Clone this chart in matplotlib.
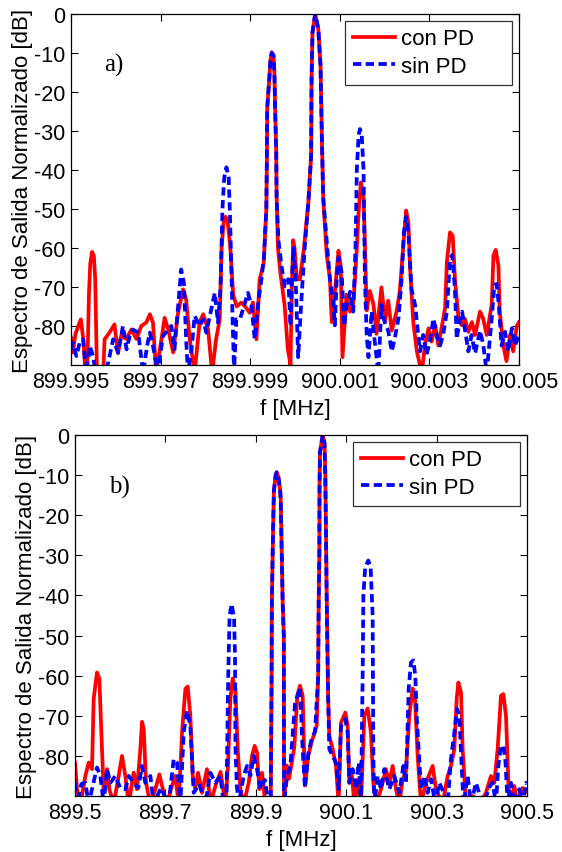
import numpy as np
import matplotlib
matplotlib.use("Agg")
import matplotlib.pyplot as plt

# panel a): offsets from 900 MHz in kHz, level in dB
a_con_khz = [-5.00, -4.96, -4.90, -4.78, -4.72, -4.68, -4.63, -4.60, -4.57, -4.53, -4.49, -4.46, -4.42,
             -4.28, -4.25, -4.14, -4.03, -3.95, -3.88, -3.77, -3.65, -3.54, -3.43, -3.32, -3.24, -3.17,
             -3.10, -2.98, -2.91, -2.83, -2.72, -2.61, -2.50, -2.43, -2.35, -2.24, -2.13, -2.05, -1.94,
             -1.85, -1.76, -1.68, -1.64, -1.59, -1.55, -1.50, -1.45, -1.38, -1.30, -1.20, -1.12, -1.01,
             -0.94, -0.86, -0.79, -0.70, -0.64, -0.63, -0.62, -0.57, -0.55, -0.52, -0.48, -0.46, -0.44,
             -0.42, -0.41, -0.38, -0.33, -0.23, -0.16, -0.10, -0.07, -0.04, -0.01, 0.04, 0.11, 0.20,
             0.30, 0.36, 0.37, 0.39, 0.45, 0.52, 0.57, 0.60, 0.63, 0.71, 0.78, 0.82, 0.90, 0.97, 1.02,
             1.06, 1.15, 1.23, 1.30, 1.34, 1.38, 1.42, 1.47, 1.53, 1.56, 1.60, 1.67, 1.75, 1.82, 1.93,
             2.01, 2.08, 2.16, 2.27, 2.34, 2.42, 2.48, 2.53, 2.57, 2.64, 2.72, 2.83, 2.90, 2.98, 3.05,
             3.13, 3.20, 3.27, 3.35, 3.39, 3.46, 3.52, 3.57, 3.65, 3.72, 3.79, 3.87, 3.95, 4.02, 4.13,
             4.20, 4.28, 4.39, 4.43, 4.48, 4.54, 4.57, 4.65, 4.72, 4.80, 4.87, 4.95, 5.00]
a_con_db = [-83, -86.8, -82, -78.3, -84, -92, -88, -72, -64, -61, -62, -68, -92,
            -92, -83.4, -81.7, -79.6, -87, -82.5, -83.3, -80.9, -83.3, -80, -79.1, -77, -79.1,
            -92, -83.3, -77.9, -80.9, -86.8, -76.6, -70.6, -73.2, -83.4, -92, -79.1, -77, -80.9,
            -92, -83.3, -78.3, -60, -53, -52, -53.5, -59, -72, -75, -74, -74.9, -76.6,
            -74, -83.4, -68.1, -64, -50, -40, -24, -16, -12, -9.8, -10.5, -15, -26,
            -35, -47, -60, -66, -74.9, -86, -90, -70, -58, -60, -68, -68, -60,
            -48, -36.3, -16.7, -4.7, 0, -3.8, -13.2, -32, -47.4, -62, -67.9, -79, -70, -60.7, -64.5,
            -88, -72, -76.3, -74, -67.9, -60, -50.7, -43.2, -47, -59, -76, -71, -74.4, -82, -70.1,
            -78.6, -73.5, -81.2, -76.1, -71, -59, -50.4, -53.4, -65.4, -79, -86.5, -92, -85, -80.6, -84,
            -79.8, -85, -80.6, -75.4, -63.6, -56, -56.8, -68, -78.1, -79.8, -78.1, -81.5, -79, -82.3, -76.3,
            -78.1, -82.3, -74.6, -61.9, -60.5, -64.5, -76.3, -85, -89, -82.3, -86.5, -80, -79]

a_sin_khz = [-5.00, -4.96, -4.88, -4.80, -4.73, -4.66, -4.58, -4.51, -4.45, -4.25, -4.17, -4.06, -3.95,
             -3.84, -3.76, -3.69, -3.62, -3.50, -3.39, -3.30, -3.24, -3.17, -3.06, -2.95, -2.83, -2.76,
             -2.69, -2.61, -2.54, -2.48, -2.43, -2.39, -2.31, -2.24, -2.13, -2.05, -1.98, -1.90, -1.79,
             -1.72, -1.66, -1.62, -1.58, -1.53, -1.48, -1.45, -1.40, -1.36, -1.31, -1.23, -1.16, -1.05,
             -0.97, -0.90, -0.83, -0.75, -0.69, -0.64, -0.63, -0.62, -0.57, -0.55, -0.52, -0.48, -0.46,
             -0.44, -0.42, -0.41, -0.37, -0.30, -0.23, -0.15, -0.10, -0.07, -0.03, 0.02, 0.07, 0.15,
             0.22, 0.30, 0.36, 0.37, 0.39, 0.45, 0.52, 0.57, 0.60, 0.63, 0.71, 0.78, 0.86, 0.89, 0.93,
             0.97, 1.04, 1.10, 1.15, 1.23, 1.30, 1.35, 1.38, 1.42, 1.45, 1.49, 1.53, 1.56, 1.60, 1.64,
             1.71, 1.78, 1.86, 1.93, 2.00, 2.08, 2.16, 2.23, 2.31, 2.38, 2.43, 2.48, 2.53, 2.60, 2.68,
             2.74, 2.79, 2.86, 2.94, 3.01, 3.09, 3.16, 3.24, 3.31, 3.39, 3.46, 3.51, 3.57, 3.61, 3.67,
             3.73, 3.79, 3.87, 3.94, 4.02, 4.13, 4.20, 4.28, 4.39, 4.45, 4.50, 4.55, 4.61, 4.69, 4.76,
             4.84, 4.91, 5.00]
a_sin_db = [-86, -84.3, -87.7, -84, -83.4, -92, -85.1, -87.7, -92, -92, -89.4, -83.4, -86.8,
            -80, -86, -82.6, -80.9, -81.7, -92, -85, -81.7, -85.1, -92, -82.6, -80.9, -80,
            -86, -74.9, -65.5, -69, -83.4, -92, -86, -77.4, -80, -78.3, -81.7, -77.4, -71.5,
            -79.1, -70, -50, -42, -39.3, -42, -52, -75, -92, -78.3, -78.3, -75.7, -71.5,
            -74.9, -83.4, -74.9, -68, -62, -50, -40, -24, -16, -12, -10, -10.8, -15,
            -26, -35, -47, -58, -64.7, -69.8, -68, -80, -68, -60, -70, -88, -72,
            -59.4, -48, -36.3, -16.7, -4.7, 0, -3.8, -13.2, -32, -47, -58.6, -67.9, -74.7, -79.8, -68,
            -62.4, -66.2, -80, -74.7, -71.2, -76.3, -60, -40, -31, -29.5, -31, -40, -68, -82.2, -88,
            -76.3, -84, -92, -74.6, -79, -81.2, -86.5, -83, -78, -68, -56, -52, -56, -70.5, -74.6,
            -81, -86.5, -82.3, -87.3, -83.8, -78.1, -82.3, -85, -82, -76.3, -62.7, -61.8, -70.5, -83.3, -79,
            -76.3, -80.6, -86.5, -82.3, -87, -81.2, -84.7, -92, -78.1, -69.5, -69.2, -74.7, -85, -81.5, -86.5,
            -80.6, -85, -82.3]

# panel b): offsets from 900 MHz in kHz, level in dB
b_con_khz = [-500, -495.5, -488, -477, -469.7, -462.4, -458.7, -451.3, -446.1, -441.7, -436.5, -429.2,
             -424, -414.4, -403.4, -396, -388.6, -381.2, -370.2, -362.8, -355.4, -351.7, -348, -342.9,
             -333.3, -322.2, -313.4, -303.8, -296.4, -287, -278, -270.6, -263.2, -255.8, -250.7, -244.8,
             -239.6, -233.8, -227.8, -219, -208, -200.6, -188, -178, -167.4, -161.5, -156.3, -151.1,
             -145.2, -140, -134.2, -126.8, -115.7, -108.4, -102.5, -97.3, -92.1, -86.2, -78.9, -67,
             -65, -64.5, -62, -60, -56, -53.8, -50, -46, -44.9, -43, -40.5, -38, -37.6, -31.7, -26.5,
             -15, -8.1, -2.2, 3.7, 8.8, 16, 23.6, 34.7, 38, 39.1, 40.6, 41, 42, 48, 52, 53.8, 55.3,
             56.8, 60, 62.6, 70, 77.4, 83.3, 88.5, 98, 103.2, 106.9, 112, 118, 125, 132.7, 140.1,
             147.5, 154.8, 160, 165.9, 177, 188, 195, 202.8, 210.1, 217.5, 224.9, 232, 239.6, 247,
             252.2, 258.1, 265.5, 276.5, 291.3, 298.6, 313.4, 324.4, 331.8, 339.2, 344.4, 348.1, 354,
             357.6, 365, 380, 394.5, 409.2, 420.3, 427.7, 435.1, 442.4, 447.6, 453.5, 459.4, 464.6,
             471.9, 479.3, 490, 500]
b_con_db = [-81.7, -88.3, -92, -85, -81.7, -83.3, -65.8, -59.2, -60.8, -74.2, -89.2, -83.3,
            -88.3, -92, -85, -80, -85, -92, -84.2, -88.3, -78.3, -71.5, -73.3, -86.7,
            -92, -88.3, -84.6, -89.2, -92, -88, -85, -92, -74.2, -63.3, -62.7, -70,
            -85, -88.3, -84.2, -89.2, -83.3, -92, -87, -84, -92, -82.5, -65.8, -60.7,
            -63.3, -78.3, -88.3, -92, -86.7, -80, -77.5, -79.2, -88.3, -84.2, -92, -92,
            -60, -42, -25, -14, -10, -9.3, -10.5, -14, -16, -27, -42, -50, -92, -82.4, -85.7,
            -78, -65, -62.5, -65, -87.4, -80, -76.5, -72.5, -60, -42, -30, -13, -4.3, 0, -2, -10, -25,
            -40, -65, -75, -78.3, -82.5, -92, -71.7, -69.2, -72.5, -86.7, -84, -92, -86, -92, -70,
            -68.2, -74.2, -86.7, -92, -88.3, -83.3, -87, -82.5, -88.3, -92, -85.8, -84, -70, -63.2,
            -65.8, -80, -92, -86.7, -82.5, -88.3, -92, -85, -82.5, -78.3, -65.8, -61.7, -64.2,
            -78.3, -92, -90, -92, -89.2, -85, -86.7, -78.3, -65, -64.6, -70, -88.3, -92,
            -87.5, -92, -88, -89]

b_sin_khz = [-500, -495.5, -486, -477, -469.7, -462.4, -451.3, -444, -436.5, -429.2, -421.8, -410.7,
             -400, -388.6, -381.2, -370.2, -360, -351.7, -344.4, -333.3, -325.9, -310, -292.7, -281.7,
             -274.3, -266.9, -259.6, -252.2, -244.8, -237.4, -225, -211.6, -200.6, -189.5, -178.4, -171,
             -165, -161, -158, -153.3, -148, -146, -145, -142, -137.9, -126.8, -119.4, -112, -104.7,
             -97.3, -89.9, -80, -71.5, -67, -65, -64.5, -62, -60, -56, -53.8, -50, -46, -44.9, -43,
             -40.5, -38, -37.6, -31, -23.6, -13.3, -2.2, 3.6, 8.8, 16.2, 23.6, 31, 38, 39.1, 40.6, 41,
             42, 48, 52, 53.8, 55.3, 56.8, 60, 62.6, 70, 77.4, 83.3, 88.5, 98, 103.2, 106.9, 114.3,
             121.6, 127.5, 132.7, 136.4, 138, 142, 148.9, 154, 158.5, 160, 162.2, 169.6, 177, 184.3,
             195.4, 206.5, 217.5, 226.4, 232.3, 238.2, 243.3, 248.5, 252.9, 255.9, 260.3, 265.5, 272.8,
             280.2, 287.6, 297.2, 306, 315, 324.4, 331.8, 339.2, 345.1, 350.3, 355.4, 359.8, 368.7, 376,
             387.1, 396, 405.6, 415, 424, 431.4, 436.5, 442.4, 447.6, 452, 457.2, 464.6, 471.9, 483,
             490, 497.7, 500]
b_sin_db = [-86.7, -92, -87, -86.7, -92, -88.3, -82.9, -85, -92, -83.3, -86.7, -85,
            -88, -88.3, -85, -86.7, -88, -82.5, -86.7, -85, -92, -88, -92, -80.8,
            -81.7, -92, -74.2, -68.7, -72.5, -89.2, -87, -92, -84.2, -86.7, -85, -92,
            -92, -60, -45, -42.1, -46, -55, -78, -87.4, -92, -85, -82.5, -85, -80,
            -83.3, -88.3, -86, -92, -92, -60, -42, -25, -14, -10, -9.3, -10.5, -14, -16, -27,
            -42, -50, -92, -85, -82.5, -67, -63, -78.3, -88, -79.5, -75.7, -74, -60, -42, -30, -13,
            -4.3, 0, -2, -10, -25, -40, -65, -78.3, -80, -81.7, -88.3, -72.5, -70.8, -74.2, -86.7, -83.3,
            -88.3, -81.7, -92, -60, -40, -33, -31.3, -33, -45, -80, -92, -85, -88.3, -83.3,
            -88.3, -85, -89.2, -82.5, -86.7, -63.3, -56.7, -56.2, -60, -70, -78.3, -88.3, -85,
            -89.2, -85.8, -92, -86.7, -89, -92, -80.8, -74.2, -68.3, -70, -82.5, -92, -85, -92,
            -86.7, -90, -92, -88, -86.7, -92, -82.5, -77.5, -77.5, -80.8, -92, -86.7, -92, -88.3,
            -92, -86.7, -87]

a_xticks = [899.995, 899.997, 899.999, 900.001, 900.003, 900.005]
a_xticklabels = ["899.995", "899.997", "899.999", "900.001", "900.003", "900.005"]
b_xticks = [899.5, 899.7, 899.9, 900.1, 900.3, 900.5]
b_xticklabels = ["899.5", "899.7", "899.9", "900.1", "900.3", "900.5"]
yticks = [0, -10, -20, -30, -40, -50, -60, -70, -80]
yticklabels = ["0", "-10", "-20", "-30", "-40", "-50", "-60", "-70", "-80"]

plt.rcParams["font.family"] = ["Liberation Sans", "DejaVu Sans"]

fig = plt.figure(figsize=(5.62, 8.53), dpi=100)
ax_a = fig.add_axes([71 / 562, 1 - 366 / 853, 448 / 562, 351 / 853])
ax_b = fig.add_axes([75 / 562, 1 - 797 / 853, 452 / 562, 361 / 853])

panels = [
    (ax_a, a_con_khz, a_con_db, a_sin_khz, a_sin_db, a_xticks, a_xticklabels, "a)"),
    (ax_b, b_con_khz, b_con_db, b_sin_khz, b_sin_db, b_xticks, b_xticklabels, "b)"),
]

for ax, ck, cd, sk, sd, xt, xtl, tag in panels:
    f_con = 900 + np.array(ck) / 1000.0
    f_sin = 900 + np.array(sk) / 1000.0
    ax.plot(f_con, cd, color="#ff0000", lw=2.7, label="con PD     ", solid_joinstyle="round")
    ax.plot(f_sin, sd, color="#0000ff", lw=2.7, ls=(0, (2.2, 1.2)), label="sin PD     ")
    ax.set_xlim(xt[0], xt[-1])
    ax.set_ylim(-90, 0)
    ax.set_xticks(xt)
    ax.set_xticklabels(xtl)
    ax.set_yticks(yticks)
    ax.set_yticklabels(yticklabels)
    ax.tick_params(direction="in", top=True, right=True, length=5, width=0.8,
                   labelsize=15.5, pad=4, colors="black")
    for sp in ax.spines.values():
        sp.set_linewidth(0.9)
    ax.set_xlabel("f [MHz]", fontsize=16, labelpad=5)
    ax.set_ylabel("Espectro de Salida Normalizado [dB]", fontsize=16, labelpad=1)
    ax.text(0.075, 0.84, tag, transform=ax.transAxes, fontsize=18,
            family=["Liberation Serif", "DejaVu Serif"])
    leg = ax.legend(loc="upper right", fontsize=16, frameon=True, fancybox=False,
                    edgecolor="black", handlelength=1.9, handletextpad=0.25,
                    borderaxespad=0.3, labelspacing=0.3, borderpad=0.35)
    leg.get_frame().set_linewidth(0.9)

fig.savefig("out.png", dpi=100)
